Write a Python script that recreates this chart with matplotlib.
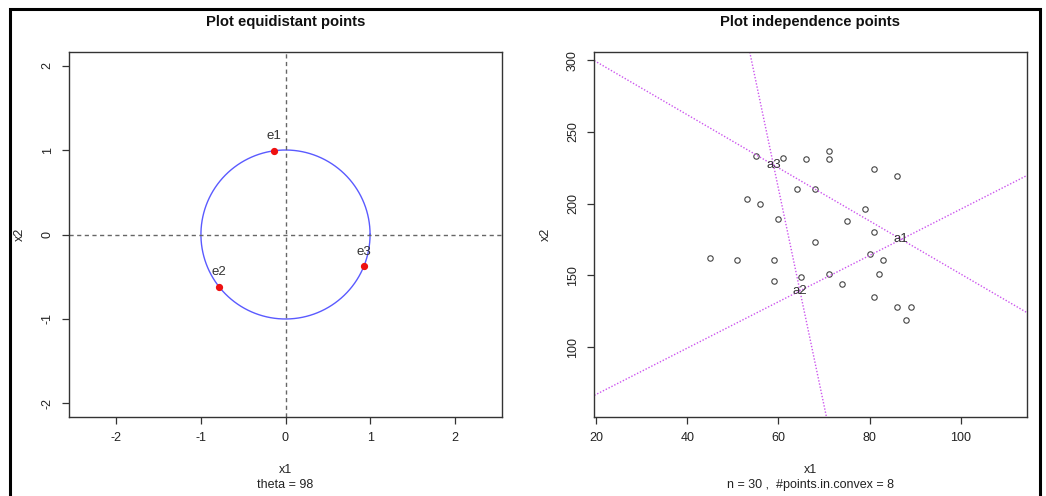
import numpy as np
import matplotlib
matplotlib.use("Agg")
import matplotlib.pyplot as plt
from matplotlib.patches import Rectangle

plt.rcParams['font.family'] = ['Liberation Sans', 'DejaVu Sans']
plt.rcParams['axes.unicode_minus'] = False

# equidistant points on the unit circle
theta = 98
e_labels = ["e1", "e2", "e3"]
e_angles = [98, 218, 338]

# independence sample
x1 = [45, 51, 53, 56, 55, 61, 66, 71, 71, 81, 86, 64, 68, 79, 60,
      75, 81, 68, 59, 80, 83, 65, 71, 59, 74, 82, 81, 86, 89, 88]
x2 = [162, 161, 203, 200, 233, 232, 231, 237, 231, 224, 219, 210, 210, 196, 189,
      188, 180, 173, 161, 165, 161, 149, 151, 146, 144, 151, 135, 128, 128, 119]
n_convex = 8

# triangle vertices where the three lines meet
a_labels = ["a1", "a2", "a3"]
a_x = [86.9, 64.7, 58.9]
a_y = [175.1, 139.2, 227.0]
line_pairs = [(2, 0), (1, 0), (2, 1)]

fig = plt.figure(figsize=(10.46, 4.96), dpi=100)
W, H = 1046, 496


def px_axes(left, top, right, bottom):
    return fig.add_axes([left / W, 1 - bottom / H, (right - left) / W, (bottom - top) / H])


def r_style(ax):
    for s in ax.spines.values():
        s.set_color("#333333")
        s.set_linewidth(1.0)
    ax.tick_params(direction="out", length=5, width=0.9, color="#333333",
                   labelsize=9, labelcolor="#222222", pad=6)
    for lab in ax.get_yticklabels():
        lab.set_rotation(90)
        lab.set_va("center")


def r_labels(ax, title, xlab, ylab, sub):
    ax.text(0.5, 1.082, title, transform=ax.transAxes, ha="center", va="center",
            fontsize=10.7, fontweight="bold", color="#111111")
    ax.text(0.5, -0.145, xlab, transform=ax.transAxes, ha="center", va="center",
            fontsize=9, color="#222222")
    ax.text(0.5, -0.186, sub, transform=ax.transAxes, ha="center", va="center",
            fontsize=9, color="#222222")
    ax.text(-0.113, 0.5, ylab, transform=ax.transAxes, ha="center", va="center",
            rotation=90, fontsize=9, color="#222222")


# left: unit circle with equidistant points
ax1 = px_axes(69, 52, 502, 417)
t = np.linspace(0, 2 * np.pi, 400)
ax1.plot(np.cos(t), np.sin(t), color="#5a5aff", lw=1.0)
ax1.axhline(0, color="#666666", lw=1.0, ls=(0, (3, 2.5)))
ax1.axvline(0, color="#666666", lw=1.0, ls=(0, (3, 2.5)))
ang = np.radians(e_angles)
ex, ey = np.cos(ang), np.sin(ang)
ax1.plot(ex, ey, "o", color="#ee1111", ms=4.2)
for lab, px, py in zip(e_labels, ex, ey):
    ax1.annotate(lab, (px, py), xytext=(0, 10.5), textcoords="offset points",
                 ha="center", va="center", fontsize=9.5, color="#333333")
ax1.set_xlim(-2.56, 2.56)
ax1.set_ylim(-2.16, 2.16)
ax1.set_xticks([-2, -1, 0, 1, 2])
ax1.set_yticks([-2, -1, 0, 1, 2])
r_style(ax1)
r_labels(ax1, "Plot equidistant points", "x1", "x2", "theta = %d" % theta)

# right: sample with the three separating lines
ax2 = px_axes(594.3, 52, 1026.7, 417)
ax2.plot(x1, x2, "o", mfc="none", mec="#444444", mew=0.8, ms=3.9)
for i, j in line_pairs:
    ax2.axline((a_x[i], a_y[i]), (a_x[j], a_y[j]), color="#cc55ee", lw=1.0, ls=(0, (1, 1.3)))
for lab, px, py in zip(a_labels, a_x, a_y):
    ax2.text(px, py, lab, ha="center", va="center", fontsize=9.5, color="#333333")
ax2.set_xlim(19.63, 114.4)
ax2.set_ylim(51.2, 305.8)
ax2.set_xticks([20, 40, 60, 80, 100])
ax2.set_yticks([100, 150, 200, 250, 300])
r_style(ax2)
r_labels(ax2, "Plot independence points", "x1", "x2",
         "n = %d ,  #points.in.convex = %d" % (len(x1), n_convex))

# outer frame
fig.patches.append(Rectangle((10 / W, -0.1), 1030 / W, 1.1 - 9 / H, transform=fig.transFigure,
                             fill=False, ec="black", lw=2.2))

fig.savefig("out.png", dpi=100)
